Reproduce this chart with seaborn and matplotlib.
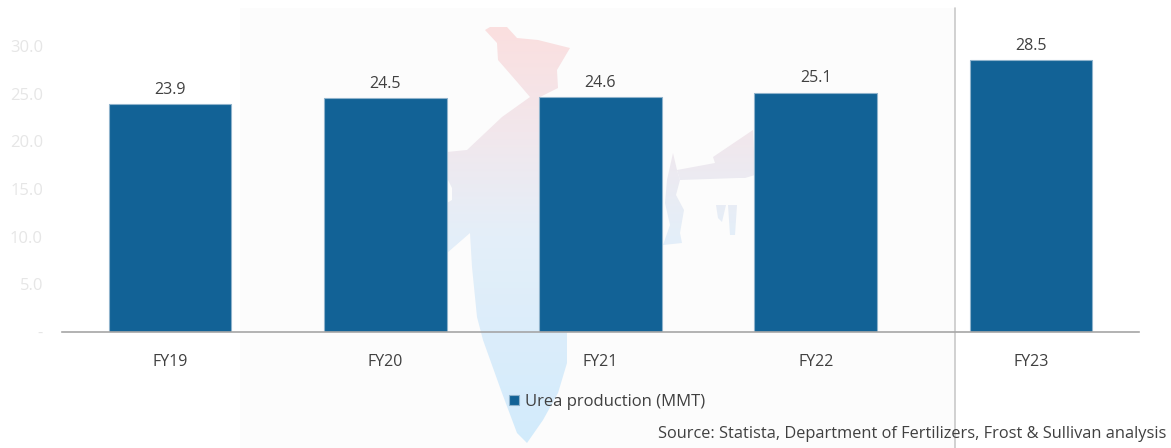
import numpy as np
import matplotlib
matplotlib.use("Agg")
import matplotlib.pyplot as plt
from matplotlib.colors import LinearSegmentedColormap
from matplotlib.patches import Polygon, Rectangle
import seaborn as sns

years = ["FY19", "FY20", "FY21", "FY22", "FY23"]
production = [23.9, 24.5, 24.6, 25.1, 28.5]
y_ticks = [0, 5, 10, 15, 20, 25, 30]
y_tick_labels = ["-", "5.0", "10.0", "15.0", "20.0", "25.0", "30.0"]
series_label = "Urea production (MMT)"
source_text = "Source: Statista, Department of Fertilizers, Frost & Sullivan analysis"

W, H = 1171, 448
sns.set_theme(style="white")
plt.rcParams["font.family"] = ["Open Sans", "DejaVu Sans"]
fig = plt.figure(figsize=(W / 100, H / 100), dpi=100, facecolor="white")

# Decorative backdrop, in pixel coordinates
bg = fig.add_axes([0, 0, 1, 1], zorder=0)
bg.set_xlim(0, W); bg.set_ylim(H, 0); bg.axis("off")
bg.add_patch(Rectangle((240, 8), 715, 440, fc="#fcfcfc", ec="none"))
cmap = LinearSegmentedColormap.from_list(
    "map", [(0, "#fbdfdf"), (0.25, "#f2e7ec"), (0.5, "#e4eff9"), (1, "#d2ebfc")])
grad = np.linspace(0, 1, 256).reshape(-1, 1)
outlines = [
    [(485, 30), (490, 27), (507, 27), (517, 38), (538, 40), (570, 48), (557, 70), (558, 88),
     (540, 97), (575, 97), (600, 150), (610, 250), (600, 280), (567, 333), (567, 363), (558, 393),
     (543, 420), (527, 443), (517, 433), (502, 393), (483, 340), (477, 317), (472, 267), (470, 233),
     (447, 253), (447, 203), (452, 200), (452, 188), (447, 178), (447, 152), (467, 150), (502, 117),
     (530, 97), (518, 83), (498, 60), (497, 43)],
    [(753, 130), (713, 157), (715, 163), (677, 170), (680, 180), (738, 178), (745, 178), (755, 175)],
    [(673, 153), (677, 170), (680, 180), (676, 195), (684, 210), (680, 233), (682, 243), (663, 245),
     (670, 225), (665, 203), (667, 180)],
    [(716, 205), (726, 205), (722, 222), (718, 218)],
    [(728, 205), (737, 205), (735, 235), (730, 235)],
]
for pts in outlines:
    im = bg.imshow(grad, cmap=cmap, extent=(440, 770, 445, 27), aspect="auto", zorder=1)
    im.set_clip_path(Polygon(pts, transform=bg.transData))
bg.set_xlim(0, W); bg.set_ylim(H, 0)
bg.plot([955, 955], [8, 448], color="#c9c9c9", lw=1.2, zorder=2)

# Chart
left, right, top, bottom = 62.4, 1138.6, 20, 332
ax = fig.add_axes([left / W, 1 - bottom / H, (right - left) / W, (bottom - top) / H], zorder=1)
ax.patch.set_alpha(0)
sns.barplot(x=years, y=production, color="#126296", saturation=1, width=0.57,
            label=series_label, ax=ax, edgecolor="#8fb3cc", linewidth=0.8)
ax.set_ylim(0, (bottom - top) / 9.54)
ax.set_xlim(-0.5, 4.5)
for s in ("top", "left", "right"):
    ax.spines[s].set_visible(False)
ax.spines["bottom"].set_color("#a6a6a6")
ax.spines["bottom"].set_linewidth(1.2)
ax.set_yticks(y_ticks, y_tick_labels, color="#e6e6e6", fontsize=12)
ax.tick_params(axis="y", length=0, pad=14)
ax.tick_params(axis="x", length=0, pad=15.5, labelsize=11.5, labelcolor="#404040")
ax.bar_label(ax.containers[0], fmt="%.1f", padding=4.5, fontsize=11.5, color="#404040")
ax.legend(loc="center", bbox_to_anchor=(607 / W, 1 - 402 / H), bbox_transform=fig.transFigure,
          frameon=False, fontsize=12, labelcolor="#404040", handlelength=0.6, handleheight=0.6,
          handletextpad=0.4)
fig.text(1166 / W, 1 - 434 / H, source_text, ha="right", va="center", fontsize=11.75, color="#404040")
fig.savefig("out.png", dpi=100)
